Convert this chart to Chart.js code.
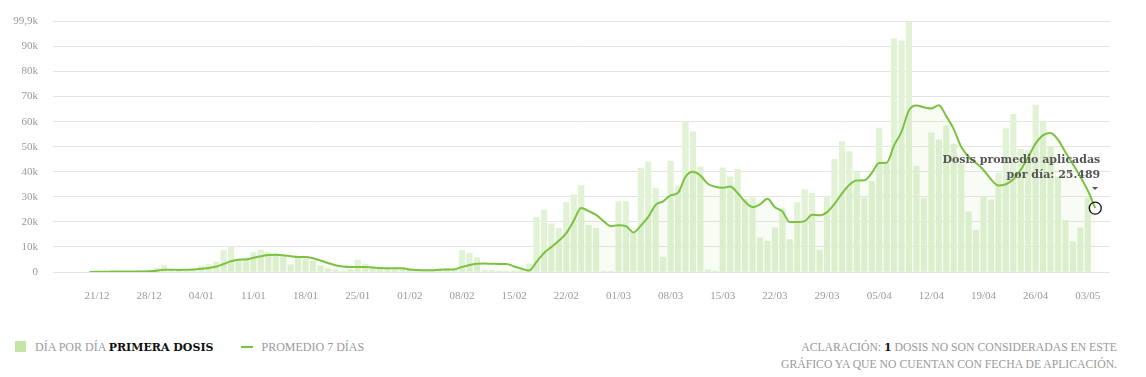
<!DOCTYPE html>
<html>
<head>
<meta charset="utf-8">
<script src="https://cdn.jsdelivr.net/npm/chart.js@4.4.1/dist/chart.umd.min.js"></script>
<style>
  html, body { margin: 0; padding: 0; background: #fff; }
  body { width: 1146px; height: 377px; position: relative; overflow: hidden; font-family: "Liberation Serif", serif; }
  #wrap { position: absolute; left: 0; top: 0; width: 1146px; height: 300px; }
  .legend { position: absolute; top: 339px; left: 15px; font-size: 12px; color: #9a9a9a; line-height: 17px; white-space: nowrap; }
  .legend .sw { display: inline-block; width: 11px; height: 11px; background: #c5e5a7; vertical-align: -1px; margin-right: 9px; }
  .legend .ln { display: inline-block; width: 12px; height: 2px; background: #7cc242; vertical-align: 3px; margin: 0 8px 0 28px; }
  .legend b, .note b { font-family: "DejaVu Serif", serif; font-weight: bold; color: #111; font-size: 11px; }
  .note { position: absolute; top: 339px; right: 29px; text-align: right; font-size: 11.7px; color: #9a9a9a; line-height: 17px; white-space: nowrap; }
  #tip { position: absolute; text-align: right; font-family: "DejaVu Serif", serif; font-weight: bold; font-size: 11px; line-height: 15px; color: #555; white-space: nowrap; }
  #caret { position: absolute; width: 0; height: 0; border-left: 3px solid transparent; border-right: 3px solid transparent; border-top: 3px solid #555; }
</style>
</head>
<body>
<div id="wrap"><canvas id="dosis" width="1146" height="300"></canvas></div>
<div id="tip">Dosis promedio aplicadas<br>por día: 25.489</div>
<div id="caret"></div>
<div class="legend"><span class="sw"></span>DÍA POR DÍA <b>PRIMERA DOSIS</b><span class="ln"></span>PROMEDIO 7 DÍAS</div>
<div class="note">ACLARACIÓN: <b>1</b> DOSIS NO SON CONSIDERADAS EN ESTE<br>GRÁFICO YA QUE NO CUENTAN CON FECHA DE APLICACIÓN.</div>
<script>
// días (20/12 -> 04/05)
const dates = [
  '20/12','21/12','22/12','23/12','24/12','25/12','26/12','27/12','28/12','29/12','30/12','31/12',
  '01/01','02/01','03/01','04/01','05/01','06/01','07/01','08/01','09/01','10/01','11/01','12/01','13/01','14/01','15/01','16/01',
  '17/01','18/01','19/01','20/01','21/01','22/01','23/01','24/01','25/01','26/01','27/01','28/01','29/01','30/01','31/01',
  '01/02','02/02','03/02','04/02','05/02','06/02','07/02','08/02','09/02','10/02','11/02','12/02','13/02','14/02',
  '15/02','16/02','17/02','18/02','19/02','20/02','21/02','22/02','23/02','24/02','25/02','26/02','27/02','28/02',
  '01/03','02/03','03/03','04/03','05/03','06/03','07/03','08/03','09/03','10/03','11/03','12/03','13/03','14/03','15/03','16/03',
  '17/03','18/03','19/03','20/03','21/03','22/03','23/03','24/03','25/03','26/03','27/03','28/03','29/03','30/03','31/03',
  '01/04','02/04','03/04','04/04','05/04','06/04','07/04','08/04','09/04','10/04','11/04','12/04','13/04','14/04','15/04',
  '16/04','17/04','18/04','19/04','20/04','21/04','22/04','23/04','24/04','25/04','26/04','27/04','28/04','29/04','30/04',
  '01/05','02/05','03/05','04/05'
];

// primera dosis por día
const dosisDia = [
  0, 100, 150, 100, 200, 200, 300, 400, 500, 1500, 2800, 900, 800, 700, 1000, 2400, 3000, 4100, 8500, 9800,
  4600, 5800, 7700, 8700, 7900, 7200, 6600, 2900, 6000, 5000, 4400, 2400, 1300, 900, 300, 1200, 4800, 3100, 2100, 1800,
  1500, 1500, 1700, 1200, 800, 1000, 800, 1200, 1400, 1000, 8500, 7400, 5800, 600, 600, 300, 300, 500, 600, 3300,
  21800, 24600, 19200, 17400, 27700, 30800, 34500, 18600, 17400, 400, 100, 28100, 28100, 15300, 41500, 44000, 33400, 6000, 44300, 34300,
  60000, 55900, 42000, 900, 400, 41600, 38000, 41000, 29000, 29600, 13600, 12300, 17600, 25600, 12900, 27700, 32900, 31400, 8700, 30300,
  45000, 52000, 48000, 40000, 29600, 36200, 57300, 43500, 93000, 92200, 99900, 42300, 29500, 55500, 52700, 58300, 51000, 43000, 24000, 16600,
  30100, 28800, 39500, 57200, 62900, 48900, 48500, 66600, 60200, 49700, 38000, 20600, 12000, 17600, 29500, null
];

// promedio 7 días
const promedio7 = [
  0, 100, 100, 150, 150, 150, 200, 200, 300, 500, 900, 900, 800, 900, 1000, 1300, 1600, 2200, 3200, 4300,
  4900, 5000, 5700, 6300, 6800, 6900, 6700, 6300, 6000, 6000, 5500, 4600, 3600, 2700, 2200, 2000, 2000, 2000, 1800, 1600,
  1500, 1500, 1500, 1000, 800, 700, 700, 900, 1000, 1100, 2000, 2800, 3300, 3400, 3300, 3200, 3200, 2200, 1300, 600,
  4000, 7600, 10000, 12500, 15500, 20500, 25500, 24300, 22800, 20300, 18300, 18700, 18300, 15800, 18500, 22000, 26800, 28200, 30600, 31600,
  38000, 40000, 38500, 35200, 34000, 33600, 34100, 31500, 28000, 25900, 27000, 29200, 25800, 24200, 19900, 19900, 20300, 22800, 22600, 23900,
  27200, 31300, 34800, 36500, 36600, 39500, 43500, 43600, 50500, 56000, 64500, 66400, 65700, 65200, 66500, 62200, 57000, 50000, 46000, 43500,
  40700, 37000, 34500, 35000, 37000, 40800, 45800, 51300, 54600, 55500, 52800, 47800, 43000, 38000, 32500, 25489
];

const xTickIdx = [1, 8, 15, 22, 29, 36, 43, 50, 57, 64, 71, 78, 85, 92, 99, 106, 113, 120, 127, 134];
const yTicks = [0, 10000, 20000, 30000, 40000, 50000, 60000, 70000, 80000, 90000, 99900];

const last = promedio7.length - 1;
const tickFont = { family: '"Liberation Serif", serif', size: 11 };

const chart = new Chart(document.getElementById('dosis'), {
  data: {
    datasets: [
      {
        type: 'line',
        label: 'Promedio 7 días',
        data: promedio7.map((v, i) => ({ x: i, y: v })),
        borderColor: '#7cc242',
        borderWidth: 2,
        backgroundColor: 'rgba(124, 194, 66, 0.05)',
        fill: 'origin',
        cubicInterpolationMode: 'monotone',
        pointRadius: ctx => ctx.dataIndex === last ? 6 : 0,
        pointBorderColor: '#111',
        pointBackgroundColor: 'rgba(0,0,0,0)',
        pointBorderWidth: 1.3,
        order: 1
      },
      {
        type: 'bar',
        label: 'Día por día primera dosis',
        data: dosisDia.map((v, i) => ({ x: i, y: v })),
        backgroundColor: '#e2f2d5',
        barThickness: 5.5,
        order: 2
      }
    ]
  },
  options: {
    responsive: false,
    animation: false,
    devicePixelRatio: 1,
    layout: { padding: { top: 20, right: 36, bottom: 0, left: 0 } },
    plugins: { legend: { display: false }, tooltip: { enabled: false } },
    scales: {
      x: {
        type: 'linear',
        offset: false,
        min: -4.9,
        max: 136.98,
        grid: { display: false },
        border: { display: false },
        afterBuildTicks: s => { s.ticks = xTickIdx.map(v => ({ value: v })); },
        afterFit: s => { s.height = 28; },
        ticks: {
          autoSkip: false, maxRotation: 0, padding: 10,
          color: '#9a9a9a', font: tickFont,
          callback: v => dates[v]
        }
      },
      y: {
        min: 0,
        max: 99900,
        grid: { color: '#e5e5e5', drawTicks: false },
        border: { display: false },
        afterBuildTicks: s => { s.ticks = yTicks.map(v => ({ value: v })); },
        afterFit: s => { s.width = 53; },
        ticks: {
          padding: 15, color: '#9a9a9a', font: tickFont,
          callback: v => v === 0 ? '0' : (v === 99900 ? '99,9k' : (v / 1000) + 'k')
        }
      }
    }
  }
});

// etiqueta del último punto
const px = chart.scales.x.getPixelForValue(last);
const py = chart.scales.y.getPixelForValue(promedio7[last]);
const tip = document.getElementById('tip');
tip.style.right = (1146 - px - 5) + 'px';
tip.style.top = (py - 56) + 'px';
const caret = document.getElementById('caret');
caret.style.left = (px - 3) + 'px';
caret.style.top = (py - 21) + 'px';
</script>
</body>
</html>
